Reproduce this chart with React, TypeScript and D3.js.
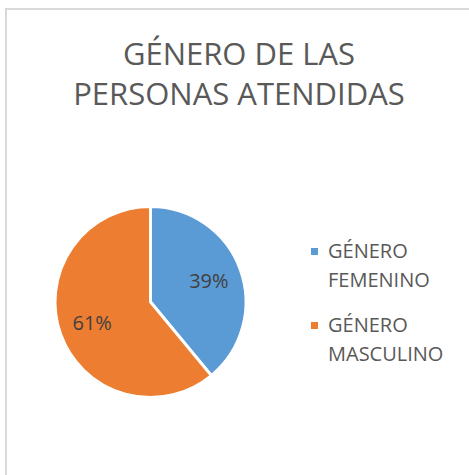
import React from 'react';
import * as d3 from 'd3';

const titleLines = ['GÉNERO DE LAS', 'PERSONAS ATENDIDAS'];
const categories = ['GÉNERO FEMENINO', 'GÉNERO MASCULINO'];
const shares = [39, 61];
const colors = ['#5B9BD5', '#ED7D31'];

const W = 469;
const H = 475;
const cx = 150.5;
const cy = 302;
const R = 95.5;

export default function App() {
  const pie = d3.pie<number>().sort(null).value(d => d);
  const arcs = pie(shares);
  const arc = d3.arc<d3.PieArcDatum<number>>().innerRadius(0).outerRadius(R);
  const labelArc = d3.arc<d3.PieArcDatum<number>>().innerRadius(62).outerRadius(62);
  const total = d3.sum(shares);
  const fmt = d3.format('.0%');

  const font = "'Open Sans', sans-serif";

  return (
    <svg width={W} height={H} style={{ position: 'absolute', left: 0, top: 0 }} fontFamily={font}>
      <rect x={0} y={0} width={W} height={H} fill="#fff" />
      <rect x={6} y={9} width={W + 20} height={H + 20} fill="#fff" stroke="#d9d9d9" strokeWidth={2} />

      {titleLines.map((t, i) => (
        <text key={t} x={239} y={65 + i * 40} textAnchor="middle" fontSize={31} fill="#595959">
          {t}
        </text>
      ))}

      <g transform={`translate(${cx},${cy})`}>
        {arcs.map((a, i) => (
          <path key={i} d={arc(a) || ''} fill={colors[i]} stroke="#fff" strokeWidth={3} strokeLinejoin="miter" />
        ))}
        {arcs.map((a, i) => {
          const [lx, ly] = labelArc.centroid(a);
          return (
            <text key={'l' + i} x={lx} y={ly} dy="0.36em" textAnchor="middle" fontSize={20} fill="#404040">
              {fmt(a.data / total)}
            </text>
          );
        })}
      </g>

      {categories.map((c, i) => {
        const words = c.split(' ');
        const base = 258 + i * 74;
        return (
          <g key={c}>
            <rect x={311} y={base - 10} width={7} height={7} fill={colors[i]} />
            {words.map((w, j) => (
              <text key={w} x={328} y={base + j * 28.5} fontSize={20} fill="#595959">
                {w}
              </text>
            ))}
          </g>
        );
      })}
    </svg>
  );
}
